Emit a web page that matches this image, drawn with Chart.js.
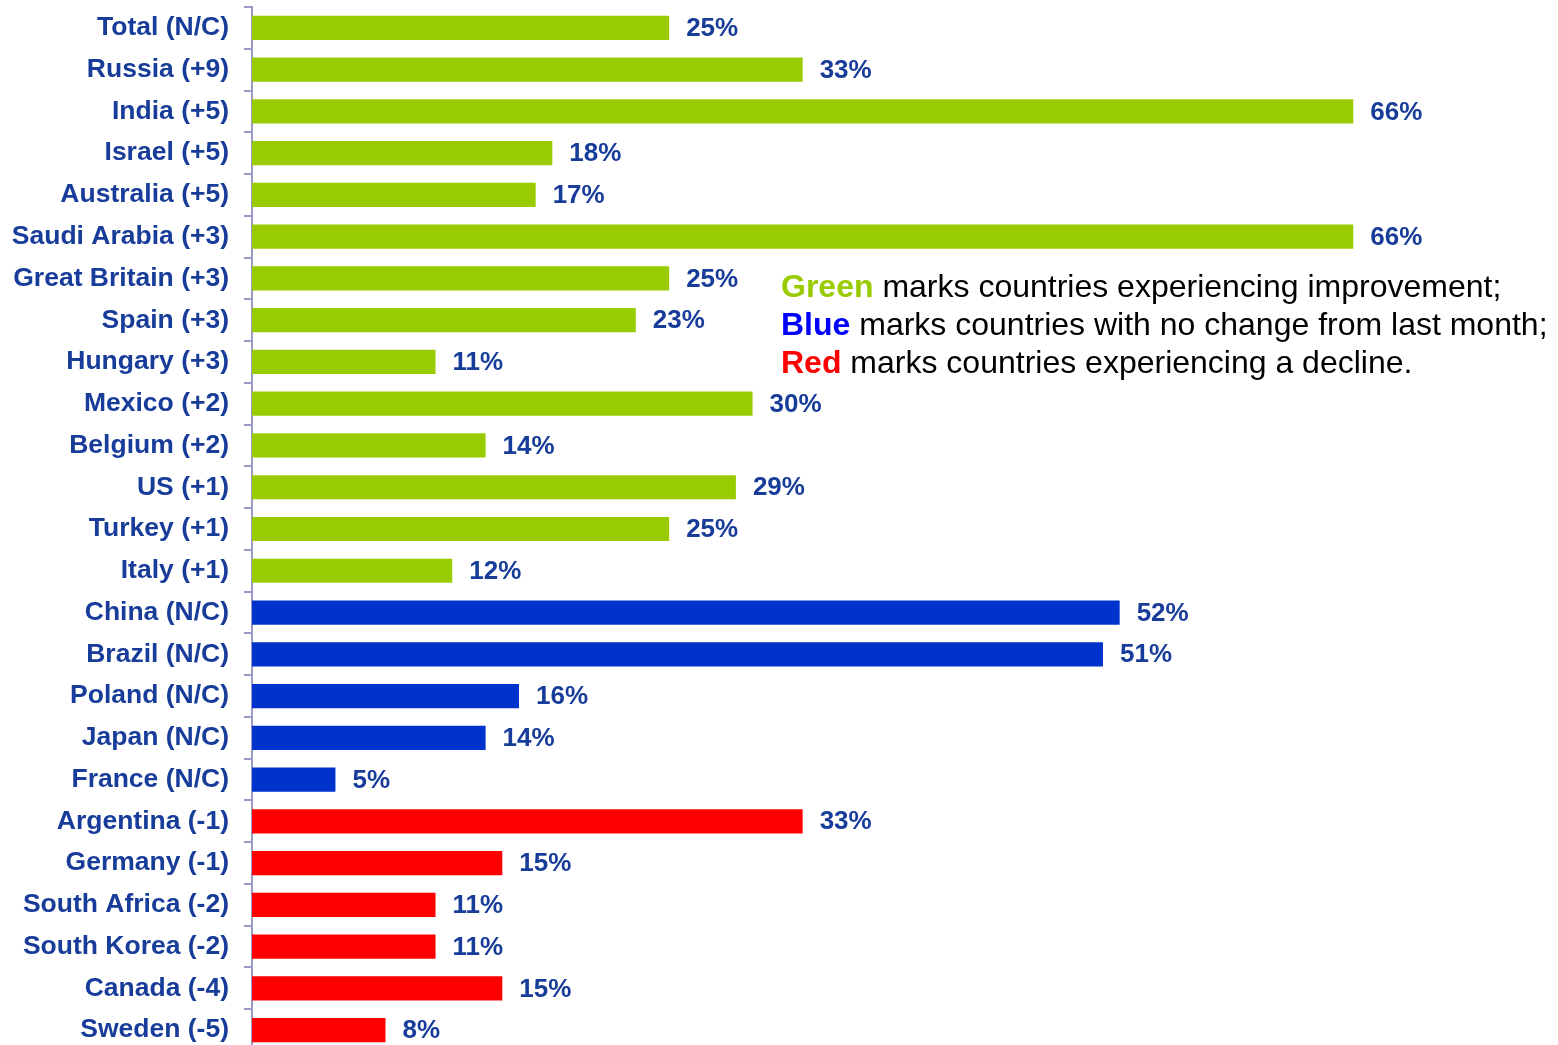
<!DOCTYPE html>
<html>
<head>
<meta charset="utf-8">
<script src="https://cdn.jsdelivr.net/npm/chart.js@4/dist/chart.umd.min.js"></script>
<style>
  html, body { margin: 0; padding: 0; background: #fff; overflow: hidden; }
  #wrap { position: relative; width: 1558px; height: 1045px; overflow: hidden; }
  #chart { position: absolute; left: 0; top: 0; }
  #note { position: absolute; left: 781px; top: 267px; font-family: "Liberation Sans", Arial, sans-serif;
          font-size: 32px; line-height: 38px; color: #000; white-space: nowrap; }
  #note b { font-weight: bold; }
</style>
</head>
<body>
<div id="wrap">
  <canvas id="chart" width="1558" height="1053"></canvas>
  <div id="note">
    <div><b style="color:#99cc00">Green</b> marks countries experiencing improvement;</div>
    <div><b style="color:#0000ff">Blue</b> marks countries with no change from last month;</div>
    <div><b style="color:#ff0000">Red</b> marks countries experiencing a decline.</div>
  </div>
</div>
<script>
// countries with change vs last month
const countries = ['Total (N/C)', 'Russia (+9)', 'India (+5)', 'Israel (+5)', 'Australia (+5)',
  'Saudi Arabia (+3)', 'Great Britain (+3)', 'Spain (+3)', 'Hungary (+3)', 'Mexico (+2)',
  'Belgium (+2)', 'US (+1)', 'Turkey (+1)', 'Italy (+1)', 'China (N/C)', 'Brazil (N/C)',
  'Poland (N/C)', 'Japan (N/C)', 'France (N/C)', 'Argentina (-1)', 'Germany (-1)',
  'South Africa (-2)', 'South Korea (-2)', 'Canada (-4)', 'Sweden (-5)'];
const values = [25, 33, 66, 18, 17, 66, 25, 23, 11, 30, 14, 29, 25, 12, 52, 51, 16, 14, 5, 33, 15, 11, 11, 15, 8];
const trend = ['up', 'up', 'up', 'up', 'up', 'up', 'up', 'up', 'up', 'up', 'up', 'up', 'up', 'up',
  'same', 'same', 'same', 'same', 'same', 'down', 'down', 'down', 'down', 'down', 'down'];

const trendColors = { up: '#99cc00', same: '#0033cc', down: '#ff0000' };
const labelColor = '#173c99';
const axisColor = '#9a9ac6';

// percentage labels to the right of each bar
const valueLabels = {
  id: 'valueLabels',
  afterDatasetsDraw(chart) {
    const ctx = chart.ctx;
    const meta = chart.getDatasetMeta(0);
    ctx.save();
    ctx.font = 'bold 26px "Liberation Sans", Arial, sans-serif';
    ctx.fillStyle = labelColor;
    ctx.textAlign = 'left';
    ctx.textBaseline = 'middle';
    meta.data.forEach(function (bar, i) {
      ctx.fillText(values[i] + '%', bar.x + 17, bar.y + 1);
    });
    ctx.restore();
  }
};

new Chart(document.getElementById('chart'), {
  type: 'bar',
  data: {
    labels: countries,
    datasets: [{
      data: values,
      backgroundColor: trend.map(t => trendColors[t]),
      barPercentage: 0.58,
      categoryPercentage: 1
    }]
  },
  options: {
    indexAxis: 'y',
    responsive: false,
    animation: false,
    layout: { padding: { top: 7, bottom: 2, right: 138, left: 0 } },
    plugins: { legend: { display: false }, tooltip: { enabled: false } },
    scales: {
      x: { display: false, min: 0, max: 70 },
      y: {
        afterFit(scale) {
          scale.width = 252;
          scale.paddingTop = 0;
          scale.paddingBottom = 0;
        },
        border: { color: axisColor, width: 2 },
        grid: { drawOnChartArea: false, offset: true, color: axisColor, lineWidth: 2, tickLength: 8 },
        ticks: {
          padding: 15,
          color: labelColor,
          font: { family: '"Liberation Sans", Arial, sans-serif', size: 26.5, weight: 'bold' }
        }
      }
    }
  },
  plugins: [valueLabels]
});
</script>
</body>
</html>
